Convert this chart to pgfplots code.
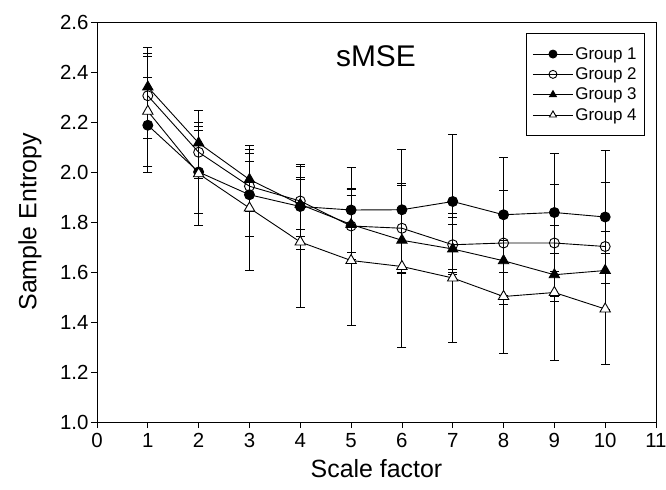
\documentclass[border=0pt]{standalone}
\usepackage{fontspec}
\setmainfont{Liberation Sans}
\usepackage{pgfplots}
\usepackage{pgfplotstable}
\pgfplotsset{compat=1.18}

% scale factor, group means and SD
\pgfplotstableread{
x  g1    e1    g2    e2    g3    e3    g4    e4
1  2.187 0.190 2.305 0.170 2.340 0.160 2.243 0.220
2  2.000 0.167 2.079 0.104 2.116 0.130 1.993 0.205
3  1.909 0.166 1.943 0.100 1.970 0.120 1.856 0.250
4  1.862 0.170 1.884 0.140 1.870 0.100 1.720 0.260
5  1.848 0.170 1.784 0.150 1.790 0.140 1.646 0.260
6  1.849 0.240 1.775 0.180 1.727 0.130 1.622 0.324
7  1.882 0.270 1.709 0.110 1.692 0.100 1.576 0.258
8  1.829 0.230 1.716 0.210 1.645 0.174 1.502 0.226
9  1.838 0.235 1.716 0.233 1.589 0.085 1.518 0.270
10 1.820 0.266 1.702 0.256 1.606 0.156 1.452 0.223
}\sampen

\pgfplotsset{
  grp/.style={black, line width=0.9bp, mark size=#1,
    error bars/y dir=both, error bars/y explicit,
    error bars/error bar style={black, line width=0.9bp},
    error bars/error mark options={rotate=90, black, mark size=4.5bp, line width=0.9bp, solid}},
}

\begin{document}
\begin{tikzpicture}
\path[use as bounding box] (-97bp,-68bp) rectangle (569bp,422bp);
\begin{axis}[
  scale only axis, width=559bp, height=400bp,
  xmin=0, xmax=11, ymin=1.0, ymax=2.6,
  xtick={0,1,2,3,4,5,6,7,8,9,10,11},
  ytick={1.0,1.2,1.4,1.6,1.8,2.0,2.2,2.4,2.6},
  yticklabel style={xshift=1bp, /pgf/number format/.cd, fixed, fixed zerofill, precision=1},
  /pgf/number format/assume math mode=true,
  tick label style={font=\fontsize{20.5}{22}\selectfont},
  xtick pos=bottom, ytick pos=left,
  tick align=outside, major tick length=6bp,
  tick style={black, line width=0.8bp},
  axis line style={line width=0.8bp},
  xticklabel style={yshift=-2bp},
  xlabel={Scale factor}, ylabel={Sample Entropy},
  every axis x label/.style={at={(axis description cs:0.5,0)}, anchor=center, yshift=-47bp,
    font=\fontsize{25}{27}\selectfont},
  every axis y label/.style={at={(axis description cs:-0.12,0.5)}, anchor=center, rotate=90,
    font=\fontsize{25}{27}\selectfont},
  legend style={at={(1,1)}, anchor=north east, xshift=-11bp, yshift=-11bp,
    font=\fontsize{17}{19}\selectfont, draw=black, line width=0.8bp,
    inner xsep=6bp, inner ysep=12bp, row sep=3bp, cells={anchor=west}},
  legend image code/.code={\draw[mark repeat=2, mark phase=2, mark size=4bp]
    plot coordinates {(0bp,0bp) (20bp,0bp) (40bp,0bp)};},
]
\addplot[grp=5bp, mark=*] table[x=x, y=g1, y error=e1] {\sampen};
\addplot[grp=5bp, mark=o, mark options={fill=white}] table[x=x, y=g2, y error=e2] {\sampen};
\addplot[grp=6bp, mark=triangle*] table[x=x, y=g3, y error=e3] {\sampen};
\addplot[grp=6bp, mark=triangle*, mark options={fill=white}] table[x=x, y=g4, y error=e4] {\sampen};
\legend{Group 1, Group 2, Group 3, Group 4}
\node[font=\fontsize{30}{32}\selectfont] at (axis cs:5.49,2.465) {sMSE};
\end{axis}
\end{tikzpicture}
\end{document}
